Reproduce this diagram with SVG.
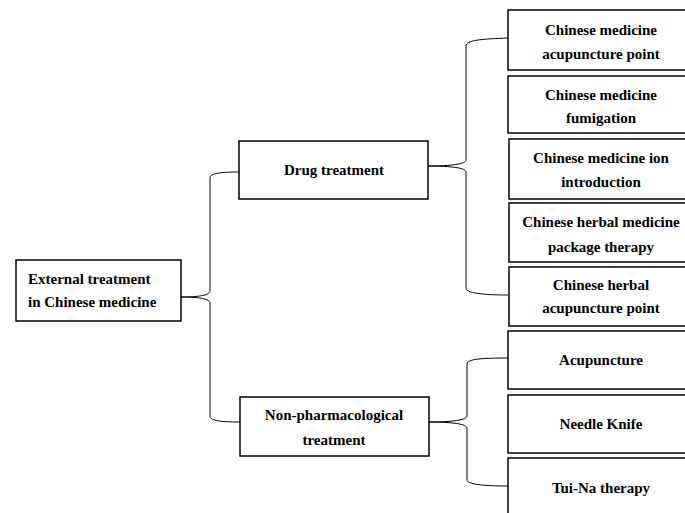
<svg xmlns="http://www.w3.org/2000/svg" width="685" height="513" viewBox="0 0 685 513">
<style>
.box{fill:#fff;stroke:#000;stroke-width:1.5}
.t{font-family:"Liberation Serif","Times New Roman",serif;font-weight:bold;font-size:15px;fill:#000}
.c{text-anchor:middle}
.con{fill:none;stroke:#000;stroke-width:1}
</style>
<rect width="685" height="513" fill="#fff"/>
<g id="connectors">
<path class="con" d="M239,172 C222,172 210,173 210,178 L210,291 C210,295 200,297 181,297 C200,297 210,299 210,303 L210,416 C210,421 222,422 240,422"/>
<path class="con" d="M508,38 C482,39 466,40 466,46 L466,160 C466,164 452,166 427,166 C452,166 466,168 466,172 L466,288 C466,293 482,295 508,295"/>
<path class="con" d="M508,358 C482,358 467,359 467,364 L467,416 C467,420 452,422 429,422 C452,422 467,424 467,428 L467,480 C467,484 482,486 508,486"/>
</g>
<g id="root">
<rect class="box" x="16" y="260" width="165" height="61"/>
<text class="t" x="28" y="284">External treatment</text>
<text class="t" x="28" y="307">in Chinese medicine</text>
</g>
<g id="drug">
<rect class="box" x="239" y="141" width="189" height="58"/>
<text class="t c" x="334" y="175">Drug treatment</text>
</g>
<g id="nonpharm">
<rect class="box" x="240" y="397" width="189" height="59"/>
<text class="t c" x="334" y="420">Non-pharmacological</text>
<text class="t c" x="334" y="445">treatment</text>
</g>
<g id="n1">
<rect class="box" x="508" y="10" width="190" height="60"/>
<text class="t c" x="601" y="35">Chinese medicine</text>
<text class="t c" x="601" y="59">acupuncture point</text>
</g>
<g id="n2">
<rect class="box" x="508" y="76" width="190" height="57"/>
<text class="t c" x="601" y="100">Chinese medicine</text>
<text class="t c" x="601" y="123">fumigation</text>
</g>
<g id="n3">
<rect class="box" x="509" y="139" width="190" height="60"/>
<text class="t c" x="601" y="163">Chinese medicine ion</text>
<text class="t c" x="601" y="187">introduction</text>
</g>
<g id="n4">
<rect class="box" x="509" y="203" width="190" height="59"/>
<text class="t c" x="601" y="227">Chinese herbal medicine</text>
<text class="t c" x="601" y="252">package therapy</text>
</g>
<g id="n5">
<rect class="box" x="509" y="267" width="190" height="59"/>
<text class="t c" x="601" y="290">Chinese herbal</text>
<text class="t c" x="601" y="313">acupuncture point</text>
</g>
<g id="n6">
<rect class="box" x="508" y="331" width="190" height="58"/>
<text class="t c" x="601" y="365">Acupuncture</text>
</g>
<g id="n7">
<rect class="box" x="508" y="395" width="190" height="58"/>
<text class="t c" x="601" y="429">Needle Knife</text>
</g>
<g id="n8">
<rect class="box" x="508" y="458" width="190" height="60"/>
<text class="t c" x="601" y="493">Tui-Na therapy</text>
</g>
</svg>
